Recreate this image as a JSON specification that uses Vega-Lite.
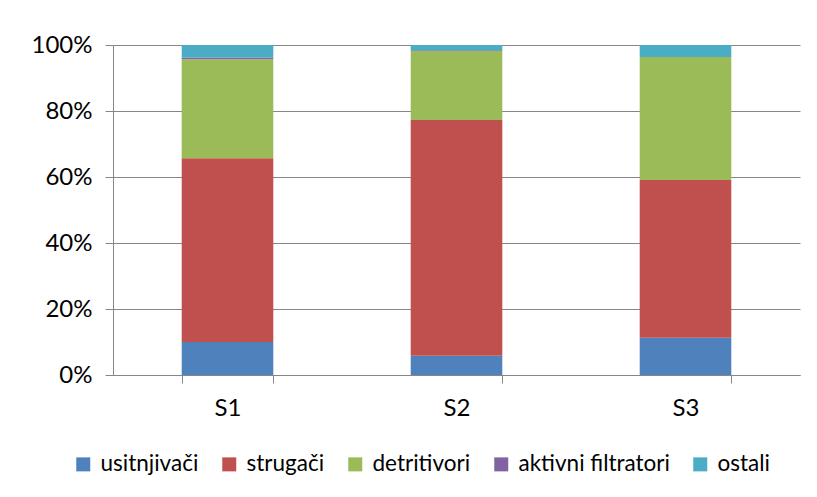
{
  "$schema": "https://vega.github.io/schema/vega-lite/v6.json",
  "width": 687,
  "height": 330,
  "autosize": {"type": "none"},
  "padding": {"left": 113, "top": 45, "right": 17, "bottom": 122},
  "background": "white",
  "config": {
    "view": {"stroke": null},
    "font": "Lato",
    "axis": {"labelFont": "Lato", "labelColor": "#000000"},
    "legend": {"labelFont": "Lato"}
  },
  "data": {
    "values": [
      {"site": "S1", "group": "usitnjivači", "rank": 1, "value": 0.100},
      {"site": "S1", "group": "strugači", "rank": 2, "value": 0.557},
      {"site": "S1", "group": "detritivori", "rank": 3, "value": 0.300},
      {"site": "S1", "group": "aktivni filtratori", "rank": 4, "value": 0.005},
      {"site": "S1", "group": "ostali", "rank": 5, "value": 0.038},
      {"site": "S2", "group": "usitnjivači", "rank": 1, "value": 0.058},
      {"site": "S2", "group": "strugači", "rank": 2, "value": 0.715},
      {"site": "S2", "group": "detritivori", "rank": 3, "value": 0.209},
      {"site": "S2", "group": "aktivni filtratori", "rank": 4, "value": 0.002},
      {"site": "S2", "group": "ostali", "rank": 5, "value": 0.016},
      {"site": "S3", "group": "usitnjivači", "rank": 1, "value": 0.113},
      {"site": "S3", "group": "strugači", "rank": 2, "value": 0.478},
      {"site": "S3", "group": "detritivori", "rank": 3, "value": 0.373},
      {"site": "S3", "group": "aktivni filtratori", "rank": 4, "value": 0.0},
      {"site": "S3", "group": "ostali", "rank": 5, "value": 0.036}
    ]
  },
  "mark": {"type": "bar"},
  "encoding": {
    "x": {
      "field": "site",
      "type": "nominal",
      "scale": {"paddingInner": 0.6, "paddingOuter": 0.3},
      "axis": {
        "title": null,
        "labelAngle": 0,
        "labelFontSize": 24,
        "labelPadding": 13,
        "tickBand": "extent",
        "tickSize": 8,
        "tickColor": "#868686",
        "domainColor": "#868686",
        "grid": false
      }
    },
    "y": {
      "field": "value",
      "type": "quantitative",
      "stack": "zero",
      "scale": {"domain": [0, 1]},
      "axis": {
        "title": null,
        "format": ".0%",
        "values": [0, 0.2, 0.4, 0.6, 0.8, 1],
        "labelFontSize": 24,
        "labelPadding": 13,
        "tickSize": 8,
        "tickColor": "#868686",
        "domainColor": "#868686",
        "gridColor": "#868686",
        "gridWidth": 1
      }
    },
    "color": {
      "field": "group",
      "type": "nominal",
      "scale": {
        "domain": ["usitnjivači", "strugači", "detritivori", "aktivni filtratori", "ostali"],
        "range": ["#4F81BD", "#C0504D", "#9BBB59", "#8064A2", "#4BACC6"]
      },
      "legend": {
        "title": null,
        "orient": "none",
        "direction": "horizontal",
        "legendX": -41,
        "legendY": 408,
        "symbolType": "square",
        "symbolSize": 196,
        "symbolStrokeWidth": 0,
        "labelFontSize": 22.5,
        "labelLimit": 0,
        "labelOffset": 6,
        "columnPadding": 19
      }
    },
    "order": {"field": "rank", "type": "quantitative"}
  }
}
